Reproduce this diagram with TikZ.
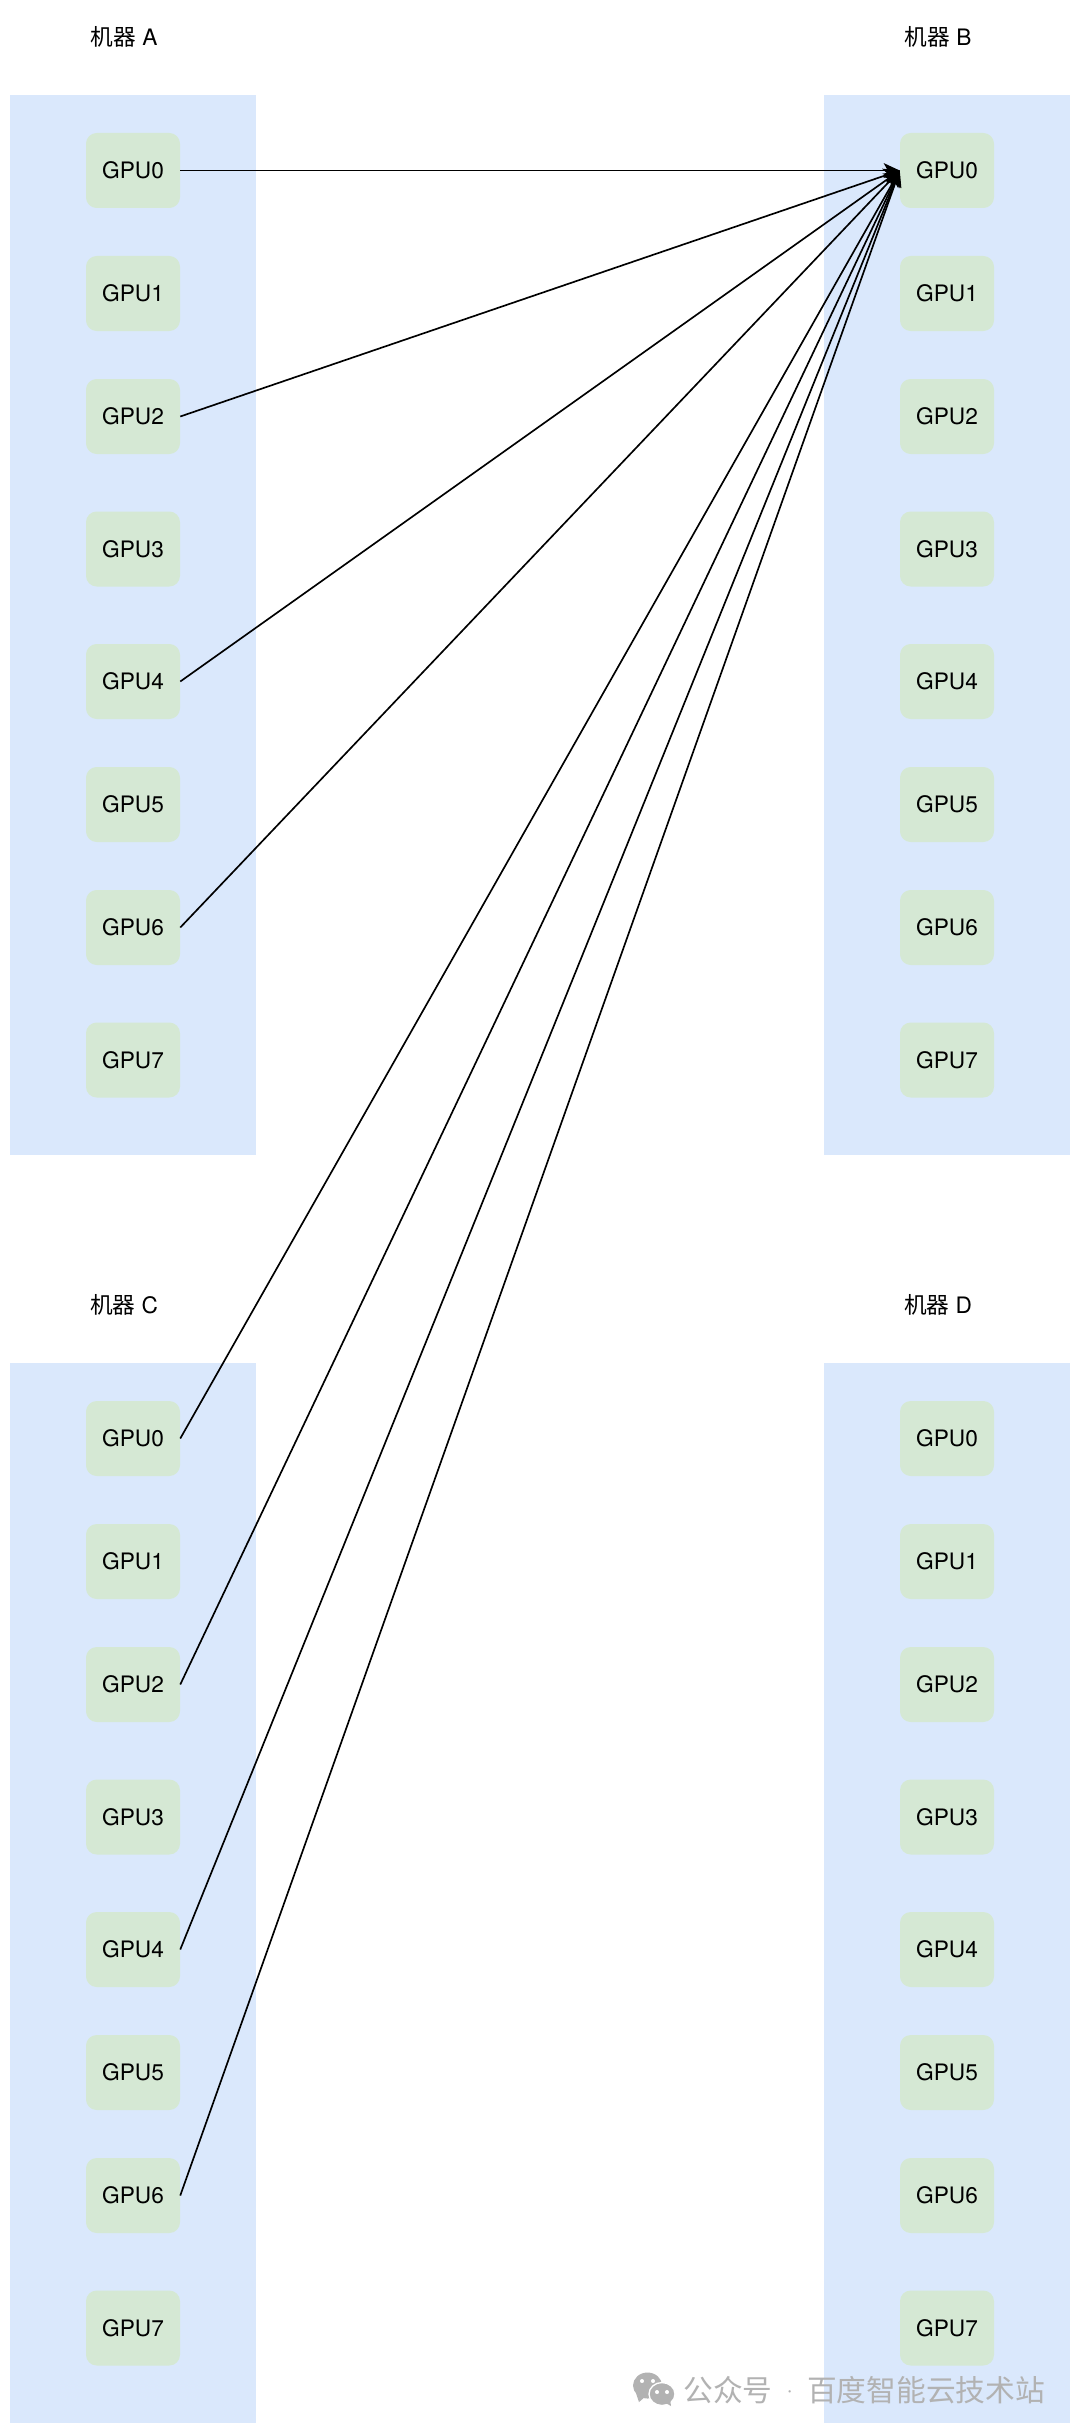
\documentclass[tikz,border=0pt]{standalone}
\usepackage{fontspec}
\setmainfont{TeX Gyre Heros}
\newfontfamily\cjk{Noto Sans CJK SC}
\usetikzlibrary{positioning, arrows.meta}
\definecolor{panelblue}{HTML}{DAE8FC}
\definecolor{gpugreen}{HTML}{D5E8D4}
\tikzstyle{panel} = [fill=panelblue, minimum width=184.5pt, minimum height=795pt, inner sep=0pt]
\tikzstyle{gpu} = [fill=gpugreen, rounded corners=8pt, minimum width=70.5pt, minimum height=56.25pt, inner sep=0pt, font=\fontsize{17}{20}\selectfont]
\tikzstyle{title} = [inner sep=0pt, font=\fontsize{17}{20}\selectfont]
\tikzstyle{link} = [draw, line width=1.25pt, -{Stealth[length=12pt,width=11pt,inset=3pt]}]
\tikzstyle{stampgray} = [fill=black!30, draw=none]

\begin{document}
\begin{tikzpicture}[x=0.75pt,y=-0.75pt]
\useasboundingbox[fill=white] (0,0) rectangle (1080,2433);
\foreach \mach/\px/\py in {A/133/0,B/947/0,C/133/1268,D/947/1268} {
	\node[panel] (panel\mach) at (\px,\py+625) {};
	\node[title] (title\mach) at (\px-9,\py+37) {{\cjk 机器} \mach};
	\foreach \idx/\gy in {0/170.5,1/293.5,2/416.5,3/549,4/681.5,5/804.5,6/927.5,7/1060} {
		\node[gpu] (\mach\idx) at (\px,\py+\gy) {GPU\idx};
	}
}
\foreach \src in {A0,A2,A4,A6,C0,C2,C4,C6} {
	\draw[link] (\src.east) -- (B0.west);
}
% watermark
\fill[stampgray] (647.5,2385.5) ellipse [x radius=14.5, y radius=13];
\fill[stampgray] (636,2393) -- (639,2402) -- (646,2396) -- cycle;
\path[fill=black!30,draw=white,line width=1pt] (662,2394) ellipse [x radius=13, y radius=11.5];
\fill[stampgray] (664,2402) -- (671,2406) -- (670,2399) -- cycle;
\foreach \ex/\ey in {642/2381,653/2381,657/2392,667/2392} {
	\fill[white] (\ex,\ey) circle [radius=2];
}
\node[inner sep=0pt, anchor=west, text=black!30, font=\cjk\fontsize{22.3}{26}\selectfont] (stamp) at (683,2390) {公众号\makebox[26pt]{\raisebox{3pt}{\rmfamily\fontsize{17}{20}\selectfont ·}}百度智能云技术站};
\end{tikzpicture}
\end{document}
